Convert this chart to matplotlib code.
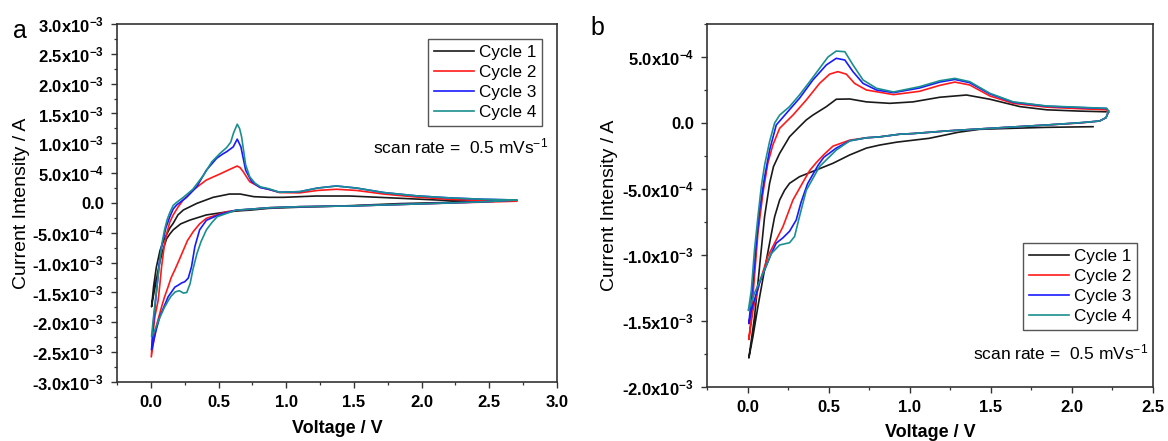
import numpy as np
import matplotlib
matplotlib.use("Agg")
import matplotlib.pyplot as plt
from matplotlib.ticker import MultipleLocator, FuncFormatter

plt.rcParams['font.family'] = ['Liberation Sans', 'DejaVu Sans']
plt.rcParams['font.weight'] = 'bold'
plt.rcParams['mathtext.fontset'] = 'custom'
plt.rcParams['mathtext.rm'] = 'Liberation Sans:weight=normal'
plt.rcParams['mathtext.it'] = 'Liberation Sans:italic:weight=normal'
plt.rcParams['mathtext.bf'] = 'Liberation Sans:weight=bold'

# ---------------- data (current in units of 1e-4 A) ----------------
labels = ['Cycle 1', 'Cycle 2', 'Cycle 3', 'Cycle 4']
colors = ['#1a1a1a', '#ff1a1a', '#1a1aff', '#1a8f8f']

# Panel a
a_c1_v = [2.70, 2.21, 1.84, 1.47, 1.10, 0.87, 0.73, 0.66, 0.56, 0.41, 0.29, 0.22, 0.165, 0.14, 0.116, 0.09, 0.067, 0.045, 0.03, 0.015, 0.005,
          0.02, 0.04, 0.067, 0.09, 0.116, 0.14, 0.165, 0.20, 0.24, 0.34, 0.46, 0.58, 0.66, 0.76, 0.87, 0.98, 1.22, 1.47, 1.84, 2.21, 2.70]
a_c1_i = [0.4, 0.1, -0.1, -0.45, -0.7, -0.9, -1.2, -1.3, -1.5, -2.0, -2.85, -3.5, -4.5, -5.2, -6.0, -7.8, -9.8, -12.3, -14.2, -16.0, -17.4,
          -14.0, -10.8, -8.0, -6.5, -5.3, -4.2, -3.4, -2.0, -1.17, -0.06, 0.95, 1.5, 1.5, 1.06, 0.95, 0.95, 1.17, 1.17, 0.79, 0.4, 0.4]

a_c2_v = [2.70, 2.46, 1.96, 1.47, 1.10, 0.87, 0.73, 0.63, 0.56, 0.41, 0.36, 0.313, 0.27, 0.24, 0.21, 0.177, 0.15, 0.128, 0.10, 0.079, 0.05, 0.03, 0.003,
          0.015, 0.03, 0.054, 0.067, 0.079, 0.10, 0.116, 0.14, 0.165, 0.20, 0.239, 0.313, 0.41, 0.51, 0.584, 0.638, 0.66, 0.682, 0.73, 0.806, 0.867,
          0.95, 1.10, 1.23, 1.37, 1.52, 1.72, 1.96, 2.21, 2.46, 2.70]
a_c2_i = [0.3, 0.15, -0.17, -0.5, -0.62, -0.8, -1.05, -1.25, -1.46, -2.57, -3.5, -4.8, -6.3, -7.9, -9.5, -11.2, -12.5, -14.0, -15.8, -17.4, -19.8, -21.8, -25.8,
          -22.0, -19.0, -16.3, -13.5, -10.7, -7.0, -5.2, -3.2, -2.0, -0.7, 0.5, 2.2, 3.85, 4.86, 5.65, 6.2, 5.9, 5.25, 3.57, 2.63, 2.3,
          1.75, 1.7, 2.1, 2.3, 2.1, 1.5, 1.0, 0.6, 0.4, 0.3]

a_c3_v = [2.70, 2.46, 1.96, 1.47, 1.10, 0.87, 0.73, 0.63, 0.56, 0.49, 0.45, 0.41, 0.36, 0.325, 0.30, 0.276, 0.25, 0.227, 0.20, 0.177, 0.15, 0.128, 0.10, 0.067, 0.04, 0.017, 0.005,
          0.015, 0.03, 0.045, 0.06, 0.075, 0.091, 0.11, 0.14, 0.165, 0.19, 0.264, 0.338, 0.41, 0.486, 0.53, 0.56, 0.608, 0.638, 0.665, 0.70, 0.744, 0.806, 0.87,
          0.95, 1.10, 1.23, 1.37, 1.52, 1.72, 1.96, 2.21, 2.46, 2.70]
a_c3_i = [0.5, 0.2, -0.17, -0.5, -0.62, -0.8, -1.05, -1.2, -1.6, -2.1, -2.5, -2.9, -4.5, -7.3, -10.7, -12.6, -13.2, -13.4, -13.8, -14.1, -15.0, -15.7, -17.2, -19.0, -21.2, -23.5, -24.6,
          -21.0, -17.5, -14.0, -10.5, -7.8, -6.2, -4.2, -2.3, -1.0, -0.34, 0.95, 2.7, 5.5, 7.5, 8.2, 8.6, 9.4, 10.7, 9.4, 5.5, 3.6, 2.6, 2.3,
          1.8, 1.9, 2.5, 2.85, 2.5, 1.75, 1.2, 0.85, 0.62, 0.5]

a_c4_v = [2.70, 2.46, 1.96, 1.47, 1.10, 0.87, 0.73, 0.63, 0.54, 0.49, 0.45, 0.41, 0.37, 0.34, 0.31, 0.29, 0.265, 0.24, 0.21, 0.18, 0.15, 0.13, 0.10, 0.08, 0.05, 0.03, 0.005,
          0.017, 0.03, 0.042, 0.055, 0.067, 0.08, 0.10, 0.12, 0.14, 0.165, 0.19, 0.24, 0.31, 0.39, 0.45, 0.51, 0.56, 0.59, 0.61, 0.638, 0.655, 0.67, 0.70, 0.73,
          0.77, 0.81, 0.87, 0.95, 1.10, 1.23, 1.37, 1.52, 1.72, 1.96, 2.21, 2.46, 2.70]
a_c4_i = [0.5, 0.2, -0.17, -0.5, -0.62, -0.8, -1.05, -1.2, -1.9, -2.3, -3.3, -4.5, -6.5, -8.5, -11.2, -13.5, -15.0, -15.1, -14.7, -14.9, -15.6, -16.3, -17.5, -18.5, -20.0, -21.3, -22.4,
          -19.6, -17.0, -14.6, -12.0, -9.5, -7.0, -4.6, -2.8, -1.6, -0.4, 0.1, 0.95, 2.3, 4.7, 6.9, 8.3, 9.3, 10.2, 11.7, 13.2, 12.5, 11.1, 6.4, 4.4,
          3.3, 2.7, 2.4, 1.8, 1.9, 2.5, 2.85, 2.5, 1.75, 1.2, 0.85, 0.62, 0.5]

# Panel b
b_c1_v = [2.13, 1.84, 1.64, 1.43, 1.30, 1.23, 1.12, 0.92, 0.815, 0.733, 0.63, 0.527, 0.424, 0.32, 0.259, 0.228, 0.198, 0.167, 0.136, 0.105, 0.064, 0.033, 0.008,
          0.025, 0.043, 0.074, 0.105, 0.136, 0.16, 0.198, 0.259, 0.32, 0.362, 0.403, 0.486, 0.547, 0.63, 0.733, 0.877, 1.02, 1.185, 1.35, 1.494, 1.68, 1.844, 2.05, 2.21]
b_c1_i = [-0.28, -0.33, -0.4, -0.48, -0.7, -0.88, -1.16, -1.45, -1.67, -1.9, -2.42, -3.05, -3.56, -4.07, -4.57, -5.1, -5.83, -7.1, -9.1, -11.1, -13.9, -16.2, -17.8,
          -16.3, -14.7, -10.9, -7.1, -4.57, -3.3, -2.3, -1.04, -0.28, 0.23, 0.6, 1.24, 1.8, 1.82, 1.6, 1.49, 1.6, 1.95, 2.12, 1.8, 1.24, 1.0, 0.9, 0.85]

b_c2_v = [2.225, 2.21, 2.17, 2.05, 1.844, 1.638, 1.43, 1.23, 1.02, 0.938, 0.815, 0.733, 0.63, 0.527, 0.47, 0.424, 0.383, 0.341, 0.28, 0.218, 0.177, 0.125, 0.074, 0.033, 0.008,
          0.023, 0.043, 0.064, 0.095, 0.125, 0.156, 0.198, 0.28, 0.362, 0.444, 0.506, 0.557, 0.609, 0.66, 0.733, 0.90, 1.06, 1.185, 1.278, 1.37, 1.494, 1.638, 1.844, 2.05, 2.214, 2.225]
b_c2_i = [0.8, 0.4, 0.15, 0.0, -0.15, -0.3, -0.45, -0.6, -0.8, -0.85, -1.05, -1.12, -1.3, -1.75, -2.4, -3.0, -3.6, -4.5, -5.83, -7.86, -8.86, -10.1, -12.1, -14.2, -16.4,
          -14.7, -11.6, -8.36, -5.3, -3.05, -1.67, -0.4, 0.6, 1.74, 3.0, 3.7, 3.89, 3.7, 3.0, 2.5, 2.15, 2.4, 2.85, 3.1, 2.88, 2.05, 1.49, 1.2, 1.08, 1.0, 0.8]

b_c3_v = [2.225, 2.21, 2.17, 2.05, 1.844, 1.638, 1.43, 1.23, 1.02, 0.938, 0.815, 0.733, 0.63, 0.547, 0.47, 0.435, 0.37, 0.33, 0.30, 0.259, 0.218, 0.177, 0.146, 0.074, 0.023, 0.008,
          0.033, 0.054, 0.074, 0.105, 0.136, 0.177, 0.239, 0.32, 0.403, 0.486, 0.547, 0.60, 0.65, 0.712, 0.795, 0.90, 1.06, 1.185, 1.278, 1.37, 1.494, 1.638, 1.844, 2.05, 2.214, 2.225]
b_c3_i = [0.9, 0.4, 0.15, 0.02, -0.15, -0.3, -0.45, -0.6, -0.8, -0.85, -1.05, -1.12, -1.35, -1.9, -2.6, -3.2, -4.6, -6.0, -7.35, -8.2, -8.7, -9.1, -9.9, -12.1, -14.2, -15.2,
          -12.1, -9.1, -6.6, -4.1, -2.05, -0.15, 0.73, 1.87, 3.26, 4.4, 4.9, 4.77, 3.89, 3.0, 2.5, 2.3, 2.65, 3.1, 3.3, 3.05, 2.2, 1.57, 1.27, 1.17, 1.1, 0.9]

b_c4_v = [2.225, 2.21, 2.17, 2.05, 1.844, 1.638, 1.43, 1.23, 1.02, 0.938, 0.815, 0.733, 0.63, 0.547, 0.444, 0.362, 0.32, 0.29, 0.259, 0.198, 0.146, 0.095, 0.043, 0.012, 0.005,
          0.023, 0.043, 0.064, 0.085, 0.105, 0.136, 0.167, 0.198, 0.259, 0.32, 0.383, 0.444, 0.496, 0.547, 0.60, 0.65, 0.712, 0.795, 0.90, 1.06, 1.185, 1.278, 1.37, 1.494, 1.638, 1.844, 2.05, 2.214, 2.225]
b_c4_i = [0.9, 0.4, 0.15, 0.02, -0.15, -0.3, -0.45, -0.6, -0.8, -0.85, -1.05, -1.12, -1.35, -2.05, -3.3, -5.1, -7.1, -8.6, -9.07, -9.24, -9.9, -11.4, -12.9, -14.0, -14.2,
          -12.7, -9.6, -7.1, -4.8, -3.2, -1.4, 0.0, 0.6, 1.24, 2.12, 3.13, 4.14, 5.0, 5.45, 5.4, 4.4, 3.26, 2.63, 2.35, 2.75, 3.2, 3.38, 3.13, 2.25, 1.6, 1.29, 1.19, 1.11, 0.9]

a_curves = [(a_c1_v, a_c1_i), (a_c2_v, a_c2_i), (a_c3_v, a_c3_i), (a_c4_v, a_c4_i)]
b_curves = [(b_c1_v, b_c1_i), (b_c2_v, b_c2_i), (b_c3_v, b_c3_i), (b_c4_v, b_c4_i)]
UNIT = 1e-4

# ---------------- figure ----------------
fig = plt.figure(figsize=(11.68, 4.41), dpi=100)
ax_a = fig.add_axes([0.1002, 0.1338, 0.3767, 0.8118])
ax_b = fig.add_axes([0.6053, 0.1224, 0.3819, 0.8232])


def sci_fmt(v, pos):
    if abs(v) < 1e-12:
        return '0.0'
    e = int(np.floor(np.log10(abs(v)) + 1e-9))
    m = v / 10.0 ** e
    return '%.1fx10' % m + r'$^{\mathbf{%d}}$' % e


def x_fmt(v, pos):
    return '%.1f' % v


def style(ax, xlim, ylim):
    ax.set_xlim(*xlim)
    ax.set_ylim(*ylim)
    ax.xaxis.set_major_locator(MultipleLocator(0.5))
    ax.xaxis.set_minor_locator(MultipleLocator(0.25))
    ax.yaxis.set_major_locator(MultipleLocator(5e-4))
    ax.yaxis.set_minor_locator(MultipleLocator(2.5e-4))
    ax.yaxis.set_major_formatter(FuncFormatter(sci_fmt))
    ax.xaxis.set_major_formatter(FuncFormatter(x_fmt))
    ax.tick_params(which='both', direction='out', top=False, right=False, color='#333333')
    ax.tick_params(which='major', length=4.5, width=1.0, labelsize=12, pad=5)
    ax.tick_params(which='minor', length=2.5, width=0.9)
    for s in ax.spines.values():
        s.set_linewidth(1.2)
        s.set_color('#333333')
    ax.set_xlabel('Voltage / V', fontsize=13, fontweight='bold')
    ax.set_ylabel('Current Intensity / A', fontsize=14, fontweight='normal')


for ax, curves in ((ax_a, a_curves), (ax_b, b_curves)):
    for (v, i), c, lab in zip(curves, colors, labels):
        ax.plot(v, np.array(i) * UNIT, color=c, lw=1.2, label=lab)

style(ax_a, (-0.25, 3.0), (-3e-3, 3e-3))
style(ax_b, (-0.25, 2.5), (-2e-3, 7.5e-4))

ax_a.xaxis.set_label_coords(0.5, -0.105)
ax_b.xaxis.set_label_coords(0.5, -0.102)
ax_a.yaxis.set_label_coords(-0.198, 0.5)
ax_b.yaxis.set_label_coords(-0.2, 0.5)

leg_kw = dict(frameon=True, fancybox=False, framealpha=1,
              edgecolor='#555555', borderpad=0.35, labelspacing=0.3,
              handlelength=2.3, handletextpad=0.3, borderaxespad=0,
              prop={'weight': 'normal', 'size': 12.3})
la = ax_a.legend(loc='upper right', bbox_to_anchor=(0.966, 0.958), **leg_kw)
lb = ax_b.legend(loc='lower right', bbox_to_anchor=(0.964, 0.157), **leg_kw)
for lg in (la, lb):
    lg.get_frame().set_linewidth(1.0)

ax_a.text(0.98, 0.659, r'scan rate =  0.5 mVs$^{\mathrm{-1}}$', transform=ax_a.transAxes,
          ha='right', va='center', fontsize=12.5, fontweight='normal')
ax_b.text(0.989, 0.096, r'scan rate =  0.5 mVs$^{\mathrm{-1}}$', transform=ax_b.transAxes,
          ha='right', va='center', fontsize=12.5, fontweight='normal')

fig.text(20 / 1168, 1 - 31 / 441, 'a', fontsize=18, ha='center', va='center', fontweight='normal')
fig.text(597 / 1168, 1 - 28 / 441, 'b', fontsize=18, ha='center', va='center', fontweight='normal')

fig.savefig('out.png', dpi=100)
